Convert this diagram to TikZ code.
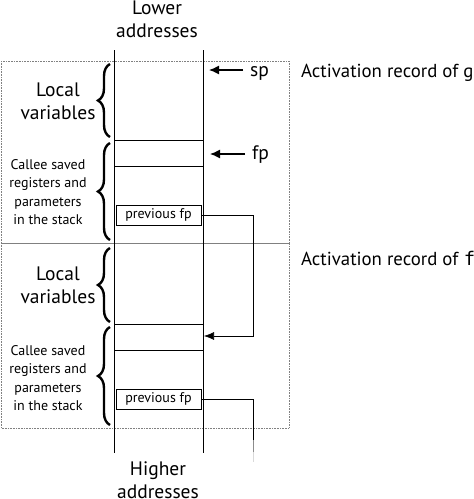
\documentclass[tikz,border=0pt]{standalone}
\usepackage{fontspec}
\setmainfont{PT Sans}
\setmonofont{DejaVu Sans Mono}
\usepackage{tikz}
\usetikzlibrary{positioning}
\usetikzlibrary{arrows.meta}
\usetikzlibrary{decorations.pathreplacing}
\tikzset{recbox/.style={draw=gray, densely dotted, semithick}}
\tikzset{fpbox/.style={draw, minimum width=85pt, minimum height=20pt, inner sep=0pt, font=\fontsize{14}{16}\selectfont}}
\tikzset{brc/.style={decorate, decoration={brace, amplitude=12pt}, line width=2.4pt}}
\tikzset{biglbl/.style={align=center, font=\fontsize{19.5}{23}\selectfont}}
\tikzset{reclbl/.style={anchor=base west, inner sep=0pt, font=\fontsize{18.8}{23}\selectfont}}
\tikzset{smalllbl/.style={align=center, font=\fontsize{14}{18.3}\selectfont}}
\tikzset{ptr/.style={-{Latex[length=10pt,width=9pt]}, line width=1.3pt}}

\begin{document}
\begin{tikzpicture}[x=1pt,y=-1pt]
\useasboundingbox (0,0) rectangle (474,499);
% activation records
\draw[recbox] (1,61) rectangle (289,243);
\draw[recbox] (1,243) rectangle (289,428);
\node[reclbl] (recg) at (301,77) {Activation record of g};
\node[reclbl] (recf) at (301,265) {Activation record of \texttt{f}};
% the stack
\draw (114,50) -- (114,453);
\draw (203,50) -- (203,453);
\node[biglbl] (low) at (157,19) {Lower\\addresses};
\node[biglbl] (high) at (158,480) {Higher\\addresses};
\foreach \y in {140,166,324,350} {
\draw (114,\y) -- (203,\y);
}
\node[fpbox] (prevg) at (158.5,215) {previous fp};
\node[fpbox] (prevf) at (158.5,399) {previous fp};
% sp and fp
\node[biglbl, anchor=base west, inner sep=0pt] (sp) at (250,76) {sp};
\coordinate (spt) at (209,70);
\draw[ptr] ([xshift=-7pt]sp.west |- spt) -- (spt);
\node[biglbl, anchor=base west, inner sep=0pt] (fp) at (252,159) {fp};
\coordinate (fpt) at (210,154);
\draw[ptr] ([xshift=-7pt]fp.west |- fpt) -- (fpt);
% saved frame pointers
\coordinate (fpf) at (204,336);
\coordinate (bendg) at (253,336);
\draw[-{Latex[length=10pt,width=8pt]}, semithick] (prevg.east) -| (bendg) -- (fpf);
\coordinate (c1) at (253,440);
\coordinate (c2) at (253,452);
\coordinate (c3) at (253,462);
\draw (prevf.east) -| (c1);
\draw[black!45] (c1) -- (c2);
\draw[black!15] (c2) -- (c3);
% braces
\draw[brc] (110,137) -- (110,64);
\draw[brc] (110,240) -- (110,143);
\draw[brc] (110,322) -- (110,248);
\draw[brc] (110,425) -- (110,327);
\node[biglbl] (locg) at (58,101) {Local\\variables};
\node[smalllbl] (calg) at (48,192) {Callee saved\\registers and\\parameters\\in the stack};
\node[biglbl] (locf) at (58,285) {Local\\variables};
\node[smalllbl] (calf) at (48,378) {Callee saved\\registers and\\parameters\\in the stack};
\end{tikzpicture}
\end{document}
